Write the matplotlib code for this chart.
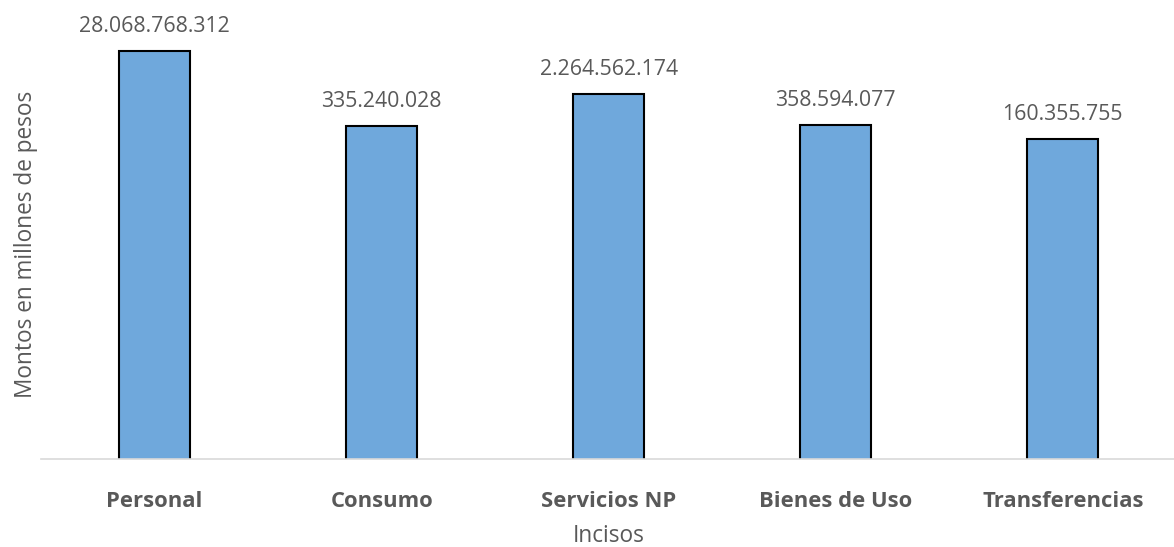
import numpy as np
import matplotlib.pyplot as plt

categorias = ['Personal', 'Consumo', 'Servicios NP', 'Bienes de Uso', 'Transferencias']
montos = [28068768312, 335240028, 2264562174, 358594077, 160355755]
etiquetas = ['28.068.768.312', '335.240.028', '2.264.562.174', '358.594.077', '160.355.755']

plt.rcParams['font.family'] = ['Open Sans', 'DejaVu Sans']
gris = '#595959'

fig = plt.figure(figsize=(11.74, 5.47), dpi=100)
ax = fig.add_axes([0.035, 0.16, 0.967, 0.786])

x = np.arange(len(categorias))
barras = ax.bar(x, montos, width=0.313, color='#6FA8DC', edgecolor='black', linewidth=1.5)
ax.set_yscale('log')
ax.set_ylim(1, 1e11)
ax.set_xlim(-0.5, len(categorias) - 0.5)

for b, txt in zip(barras, etiquetas):
    ax.annotate(txt, (b.get_x() + b.get_width() / 2, b.get_height()),
                xytext=(0, 10), textcoords='offset points',
                ha='center', va='bottom', fontsize=15.3, color=gris)

ax.set_xticks(x)
ax.set_xticklabels(categorias, fontsize=15.8, fontweight='bold', color=gris)
ax.tick_params(axis='x', length=0, pad=23)
ax.set_yticks([])
ax.yaxis.set_minor_locator(plt.NullLocator())

for s in ['top', 'right', 'left']:
    ax.spines[s].set_visible(False)
ax.spines['bottom'].set_color('#D9D9D9')
ax.spines['bottom'].set_linewidth(1.2)

ax.set_xlabel('Incisos', fontsize=16.3, color=gris, labelpad=8)
ax.set_ylabel('Montos en millones de pesos', fontsize=16.3, color=gris, labelpad=2)

fig.savefig('out.png', dpi=100)
